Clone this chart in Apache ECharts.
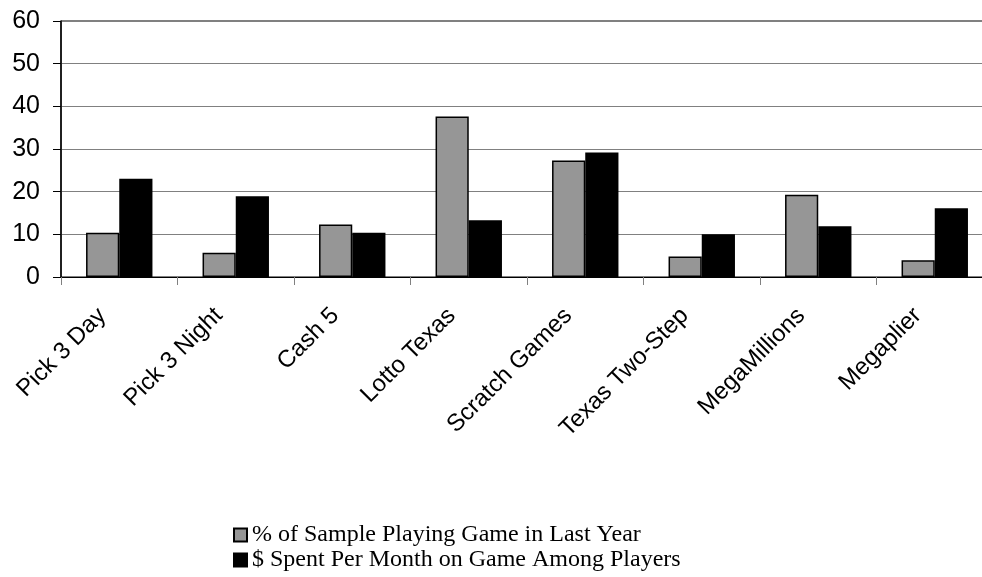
<!DOCTYPE html>
<html>
<head>
<meta charset="utf-8">
<script src="https://cdn.jsdelivr.net/npm/echarts@6/dist/echarts.min.js"></script>
<style>
html,body{margin:0;padding:0;background:#fff;overflow:hidden;width:982px;height:577px;}
#chart{width:994px;height:577px;}
</style>
</head>
<body>
<div id="chart"></div>
<script>
var categories = ["Pick 3 Day", "Pick 3 Night", "Cash 5", "Lotto Texas", "Scratch Games", "Texas Two-Step", "MegaMillions", "Megaplier"];
var seriesNames = ["% of Sample Playing Game in Last Year", "$ Spent Per Month on Game Among Players"];
var pctPlaying = [10.4, 5.7, 12.3, 37.6, 27.3, 4.8, 19.3, 3.9];
var dollarsSpent = [23.0, 18.9, 10.4, 13.3, 29.2, 10.0, 11.9, 16.1];
var yTicks = [0, 10, 20, 30, 40, 50, 60];

var chart = echarts.init(document.getElementById('chart'), null, {renderer: 'canvas'});
chart.setOption({
  animation: false,
  backgroundColor: '#ffffff',
  grid: {
    left: 61, top: 21, width: 932, height: 256,
    show: true, borderColor: '#000000', borderWidth: 1, backgroundColor: 'transparent'
  },
  legend: {
    orient: 'vertical',
    left: 233, top: 523,
    padding: 0,
    itemWidth: 13, itemHeight: 13,
    itemGap: 1,
    icon: 'rect',
    data: seriesNames,
    textStyle: {fontFamily: 'Liberation Serif', fontSize: 24, color: '#000', lineHeight: 23}
  },
  xAxis: {
    type: 'category',
    data: categories,
    axisLine: {lineStyle: {color: '#000', width: 1}},
    axisTick: {show: true, length: 8, lineStyle: {color: '#808080'}},
    axisLabel: {
      rotate: 45, margin: 18, interval: 0,
      padding: [0, 24, 0, 0],
      fontFamily: 'Liberation Sans', fontSize: 24, color: '#000'
    }
  },
  yAxis: {
    type: 'value',
    min: yTicks[0], max: yTicks[yTicks.length - 1], interval: 10,
    axisLine: {show: true, lineStyle: {color: '#000', width: 1.5}},
    axisTick: {show: true, length: 8, lineStyle: {color: '#000'}},
    splitLine: {show: true, lineStyle: {color: '#808080', width: 1}},
    axisLabel: {margin: 21, fontFamily: 'Liberation Sans', fontSize: 25, color: '#000'}
  },
  series: [
    {
      name: seriesNames[0], type: 'bar', data: pctPlaying,
      barGap: '0%', barCategoryGap: '43%',
      itemStyle: {color: '#969696', borderColor: '#000', borderWidth: 1.5}
    },
    {
      name: seriesNames[1], type: 'bar', data: dollarsSpent,
      barGap: '0%', barCategoryGap: '43%',
      itemStyle: {color: '#000000', borderColor: '#000', borderWidth: 1.5}
    }
  ]
});
</script>
</body>
</html>
